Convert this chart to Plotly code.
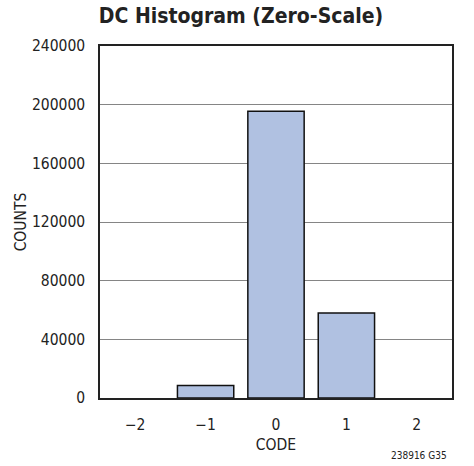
import plotly.graph_objects as go

# Histogram bins and their counts
codes = [-2, -1, 0, 1, 2]
counts = [0, 8500, 195500, 58000, 0]
code_labels = ["\u22122", "\u22121", "0", "1", "2"]
count_ticks = [0, 40000, 80000, 120000, 160000, 200000, 240000]

font_family = "Liberation Sans Narrow, DejaVu Sans Condensed, Arial Narrow, sans-serif"

# Empty bins get no outline so nothing is drawn for them
outline_widths = [1.5 if c > 0 else 0 for c in counts]

fig = go.Figure(
    go.Bar(
        x=codes,
        y=counts,
        width=0.8,
        marker=dict(color="#B0C1E1", line=dict(color="#111111", width=outline_widths)),
    )
)

fig.update_layout(
    width=474,
    height=466,
    margin=dict(l=100, r=22, t=46, b=68),
    paper_bgcolor="white",
    plot_bgcolor="white",
    showlegend=False,
    font=dict(family=font_family, size=15.5, color="#222222"),
    title=dict(
        text="<b>DC Histogram (Zero-Scale)</b>",
        x=241 / 474,
        xanchor="center",
        y=1 - 16 / 466,
        yanchor="middle",
        font=dict(family=font_family, size=21, color="#222222"),
    ),
)

fig.update_xaxes(
    range=[-2.5, 2.5],
    tickvals=codes,
    ticktext=code_labels,
    showgrid=False,
    zeroline=False,
    showline=True,
    linecolor="#222222",
    linewidth=1.5,
    mirror=True,
    ticks="",
    ticklabelstandoff=12,
    title=dict(text="CODE", font=dict(size=15.5), standoff=6),
)

fig.update_yaxes(
    range=[0, 240000],
    tickvals=count_ticks,
    ticktext=[str(v) for v in count_ticks],
    showgrid=True,
    gridcolor="#858585",
    gridwidth=1,
    zeroline=False,
    showline=True,
    linecolor="#222222",
    linewidth=1.5,
    mirror=True,
    ticks="",
    ticklabelstandoff=10,
    title=dict(text="COUNTS", font=dict(size=15.5), standoff=1),
)

fig.add_annotation(
    text="238916 G35",
    xref="paper",
    yref="paper",
    x=(449 - 100) / 352,
    y=-(455 - 398) / 352,
    xanchor="right",
    yanchor="middle",
    showarrow=False,
    font=dict(family=font_family, size=10, color="#222222"),
)

fig.write_html("out.html")
